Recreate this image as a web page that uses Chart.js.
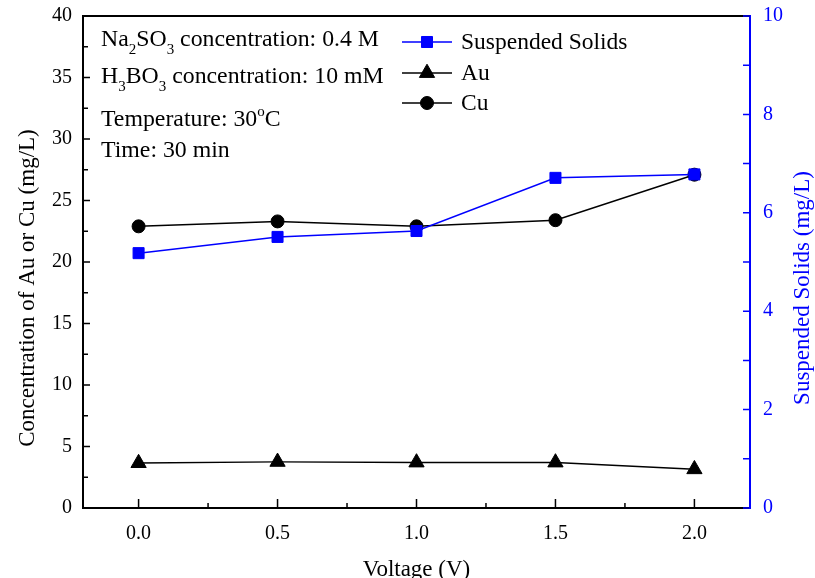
<!DOCTYPE html>
<html>
<head>
<meta charset="utf-8">
<script src="https://cdn.jsdelivr.net/npm/chart.js@4.4.1/dist/chart.umd.min.js"></script>
<style>
    html, body { margin: 0; padding: 0; background: #fff; }
    #wrap { width: 815px; height: 578px; }
</style>
</head>
<body>
<div id="wrap"><canvas id="chart" width="815" height="578"></canvas></div>
<script>
// data
const voltage = [0.0, 0.5, 1.0, 1.5, 2.0];
const cuConc = [22.9, 23.3, 22.9, 23.4, 27.1];
const auConc = [3.65, 3.75, 3.7, 3.7, 3.15];
const suspendedSolids = [5.18, 5.51, 5.63, 6.71, 6.78];

const xTicks = [0.0, 0.5, 1.0, 1.5, 2.0];
const leftTicks = [0, 5, 10, 15, 20, 25, 30, 35, 40];
const rightTicks = [0, 2, 4, 6, 8, 10];

const SERIF = "'Liberation Serif', 'Times New Roman', serif";
const BLUE = '#0000ff';

function pts(ys) {
    return voltage.map((v, i) => ({ x: v, y: ys[i] }));
}

// text with sub/superscripts: parts = [[text, 'sub'|'sup'|null], ...]
function drawRich(ctx, parts, x, y) {
    parts.forEach(function (p) {
        let dy = 0;
        if (p[1] === 'sub') { ctx.font = '15px ' + SERIF; dy = 8; }
        else if (p[1] === 'sup') { ctx.font = '15px ' + SERIF; dy = -10; }
        else { ctx.font = '23.8px ' + SERIF; }
        ctx.fillText(p[0], x, y + dy);
        x += ctx.measureText(p[0]).width;
    });
}

const extras = {
    id: 'extras',
    afterDraw(chart) {
        const ctx = chart.ctx;
        const a = chart.chartArea;
        const sx = chart.scales.x, sy = chart.scales.y, sy1 = chart.scales.y1;
        ctx.save();

        // top frame line
        ctx.strokeStyle = '#000';
        ctx.lineWidth = 2;
        ctx.beginPath();
        ctx.moveTo(a.left - 1, a.top);
        ctx.lineTo(a.right, a.top);
        ctx.stroke();

        // inward ticks, left axis
        ctx.lineWidth = 1.5;
        ctx.beginPath();
        leftTicks.forEach(function (v, i) {
            let p = sy.getPixelForValue(v);
            ctx.moveTo(a.left, p); ctx.lineTo(a.left + 7, p);
            if (i < leftTicks.length - 1) {
                p = sy.getPixelForValue((v + leftTicks[i + 1]) / 2);
                ctx.moveTo(a.left, p); ctx.lineTo(a.left + 5, p);
            }
        });
        // x axis
        xTicks.forEach(function (v, i) {
            let p = sx.getPixelForValue(v);
            ctx.moveTo(p, a.bottom); ctx.lineTo(p, a.bottom - 9);
            if (i < xTicks.length - 1) {
                p = sx.getPixelForValue((v + xTicks[i + 1]) / 2);
                ctx.moveTo(p, a.bottom); ctx.lineTo(p, a.bottom - 5);
            }
        });
        ctx.stroke();

        // right axis (blue)
        ctx.strokeStyle = BLUE;
        ctx.beginPath();
        rightTicks.forEach(function (v, i) {
            let p = sy1.getPixelForValue(v);
            ctx.moveTo(a.right, p); ctx.lineTo(a.right - 7, p);
            if (i < rightTicks.length - 1) {
                p = sy1.getPixelForValue((v + rightTicks[i + 1]) / 2);
                ctx.moveTo(a.right, p); ctx.lineTo(a.right - 7, p);
            }
        });
        ctx.stroke();

        // axis titles
        ctx.textAlign = 'center';
        ctx.textBaseline = 'middle';
        ctx.font = '23px ' + SERIF;
        ctx.fillStyle = '#000';
        ctx.save();
        ctx.translate(28, 288);
        ctx.rotate(-Math.PI / 2);
        ctx.fillText('Concentration of Au or Cu (mg/L)', 0, 0);
        ctx.restore();
        ctx.fillStyle = BLUE;
        ctx.save();
        ctx.translate(803, 288);
        ctx.rotate(-Math.PI / 2);
        ctx.fillText('Suspended Solids (mg/L)', 0, 0);
        ctx.restore();

        // conditions text
        ctx.textAlign = 'left';
        ctx.textBaseline = 'alphabetic';
        ctx.fillStyle = '#000';
        drawRich(ctx, [['Na'], ['2', 'sub'], ['SO'], ['3', 'sub'], [' concentration: 0.4 M']], 101, 46);
        drawRich(ctx, [['H'], ['3', 'sub'], ['BO'], ['3', 'sub'], [' concentration: 10 mM']], 101, 83);
        drawRich(ctx, [['Temperature: 30'], ['o', 'sup'], ['C']], 101, 126);
        drawRich(ctx, [['Time: 30 min']], 101, 157);

        // legend
        const rows = [
            { label: 'Suspended Solids', color: BLUE, style: 'rect', r: 7.8, y: 42 },
            { label: 'Au', color: '#000', style: 'triangle', r: 8.8, y: 73 },
            { label: 'Cu', color: '#000', style: 'circle', r: 6.5, y: 103 }
        ];
        rows.forEach(function (row) {
            ctx.strokeStyle = row.color;
            ctx.fillStyle = row.color;
            ctx.lineWidth = 1.5;
            ctx.beginPath();
            ctx.moveTo(402, row.y); ctx.lineTo(452, row.y);
            ctx.stroke();
            ctx.lineWidth = 1;
            Chart.helpers.drawPoint(ctx, { pointStyle: row.style, radius: row.r, borderWidth: 1, rotation: 0 }, 427, row.y);
            ctx.fillStyle = '#000';
            ctx.font = '23.5px ' + SERIF;
            ctx.textBaseline = 'middle';
            ctx.fillText(row.label, 461, row.y + 1);
        });

        ctx.restore();
    }
};

function noVPad(s) { s.paddingTop = 0; s.paddingBottom = 0; }

const ctx = document.getElementById('chart').getContext('2d');
new Chart(ctx, {
    type: 'line',
    data: {
        datasets: [
            {
                label: 'Suspended Solids',
                data: pts(suspendedSolids),
                yAxisID: 'y1',
                borderColor: BLUE,
                backgroundColor: BLUE,
                borderWidth: 1.5,
                pointStyle: 'rect',
                pointRadius: 7.8,
                pointBorderWidth: 1
            },
            {
                label: 'Cu',
                data: pts(cuConc),
                yAxisID: 'y',
                borderColor: '#000',
                backgroundColor: '#000',
                borderWidth: 1.5,
                pointStyle: 'circle',
                pointRadius: 6.5,
                pointBorderWidth: 1
            },
            {
                label: 'Au',
                data: pts(auConc),
                yAxisID: 'y',
                borderColor: '#000',
                backgroundColor: '#000',
                borderWidth: 1.5,
                pointStyle: 'triangle',
                pointRadius: 8.8,
                pointBorderWidth: 1
            }
        ]
    },
    options: {
        responsive: false,
        animation: false,
        devicePixelRatio: 1,
        layout: { padding: { top: 16, left: 0, right: 0, bottom: 0 } },
        plugins: {
            legend: { display: false },
            tooltip: { enabled: false }
        },
        scales: {
            x: {
                type: 'linear',
                position: 'bottom',
                min: -0.2,
                max: 2.2,
                afterBuildTicks: function (s) { s.ticks = xTicks.map(v => ({ value: v })); },
                afterFit: function (s) { s.height = 70; s.paddingLeft = 0; s.paddingRight = 0; },
                grid: { display: false },
                border: { color: '#000', width: 2 },
                ticks: {
                    color: '#000',
                    padding: 6,
                    font: { family: SERIF, size: 20 },
                    callback: v => v.toFixed(1)
                },
                title: {
                    display: true,
                    text: 'Voltage (V)',
                    color: '#000',
                    font: { family: SERIF, size: 23 },
                    padding: { top: 20, bottom: -6 }
                }
            },
            y: {
                position: 'left',
                min: 0,
                max: 40,
                afterBuildTicks: function (s) { s.ticks = leftTicks.map(v => ({ value: v })); },
                afterFit: function (s) { s.width = 83; noVPad(s); },
                grid: { display: false },
                border: { color: '#000', width: 2 },
                ticks: {
                    color: '#000',
                    padding: 3,
                    font: { family: SERIF, size: 20 }
                }
            },
            y1: {
                position: 'right',
                min: 0,
                max: 10,
                afterBuildTicks: function (s) { s.ticks = rightTicks.map(v => ({ value: v })); },
                afterFit: function (s) { s.width = 65; noVPad(s); },
                grid: { display: false },
                border: { color: BLUE, width: 2 },
                ticks: {
                    color: BLUE,
                    padding: 5,
                    font: { family: SERIF, size: 20 }
                }
            }
        }
    },
    plugins: [extras]
});
</script>
</body>
</html>
